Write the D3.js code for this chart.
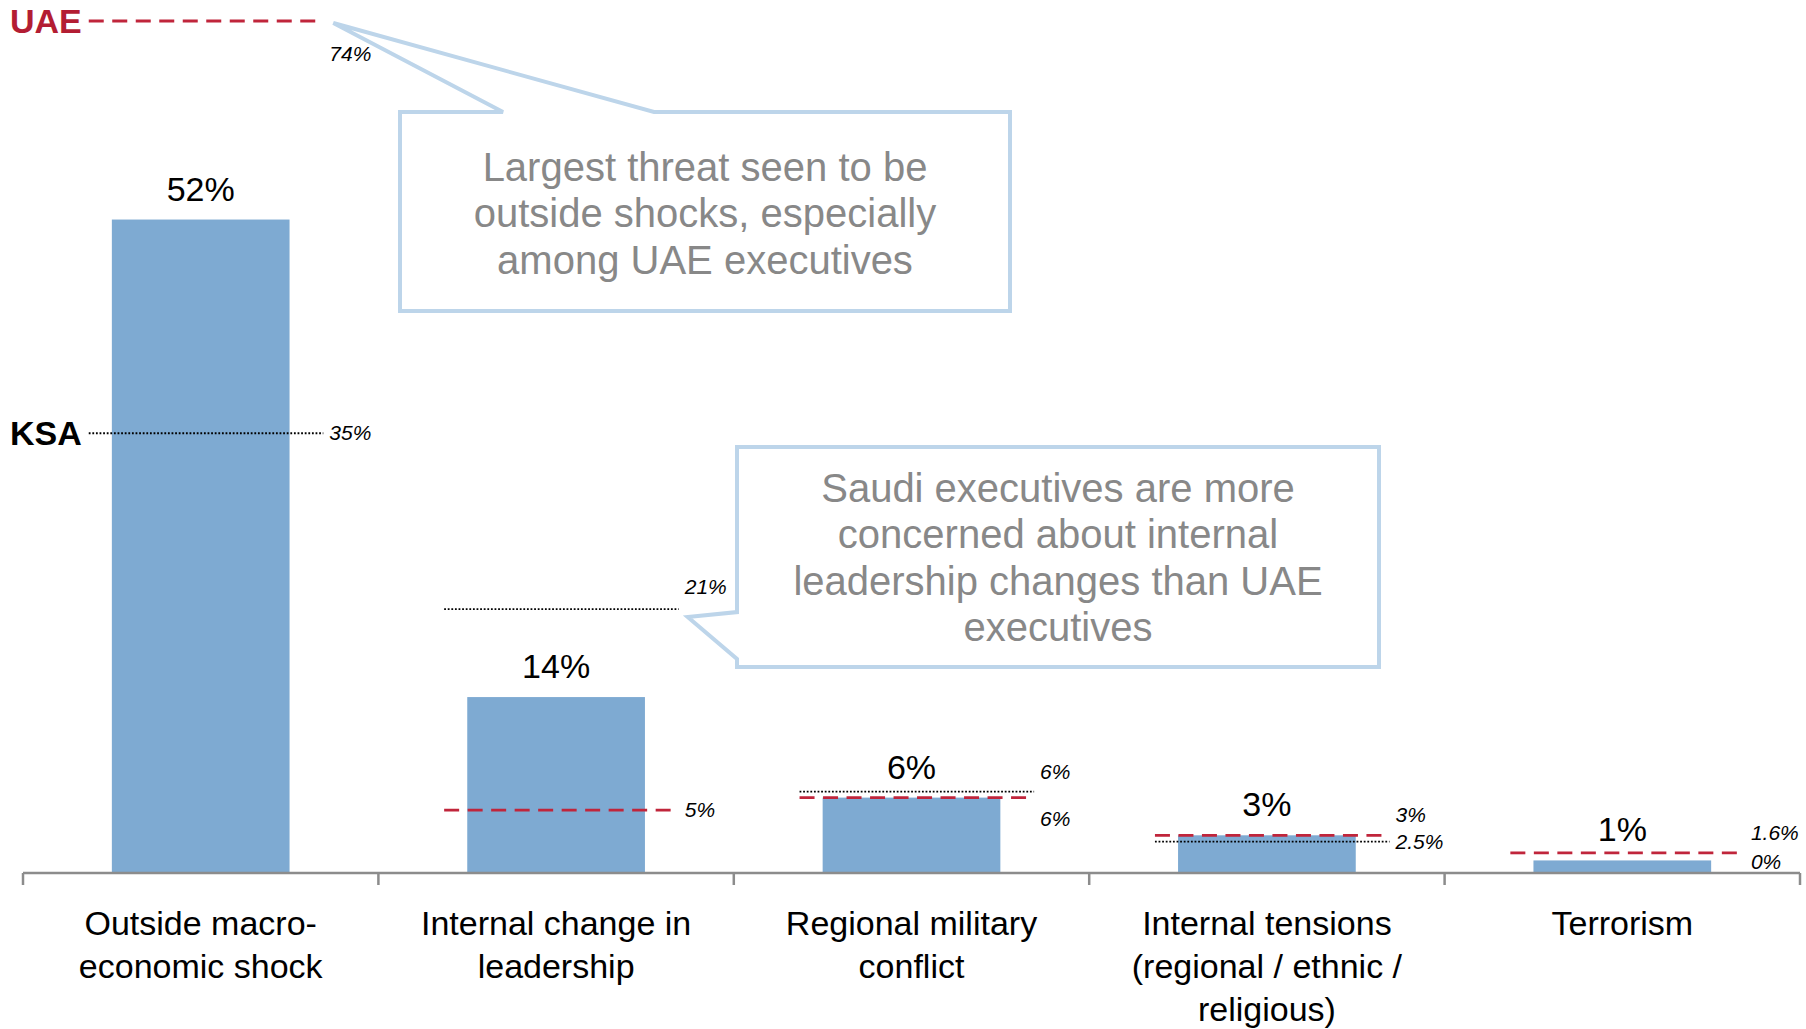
<!DOCTYPE html>
<html>
<head>
<meta charset="utf-8">
<script src="https://cdn.jsdelivr.net/npm/d3@7"></script>
<style>
  body { margin: 0; background: #fff; }
  svg { display: block; font-family: "Liberation Sans", Arial, Helvetica, sans-serif; }
</style>
</head>
<body>
<div id="chart"></div>
<script>
// categories and the wrapped labels shown under the axis
var categories = ["Outside macro-economic shock", "Internal change in leadership",
                  "Regional military conflict", "Internal tensions (regional / ethnic / religious)",
                  "Terrorism"];
var categoryLines = [
  ["Outside macro-", "economic shock"],
  ["Internal change in", "leadership"],
  ["Regional military", "conflict"],
  ["Internal tensions", "(regional / ethnic /", "religious)"],
  ["Terrorism"]
];

// share of executives (%) - total, UAE and KSA
var totalShare = [52, 14, 6, 3, 1];
var uaeShare   = [74, 5, 6, 3, 1.6];
var ksaShare   = [35, 21, 6, 2.5, 0];

var callouts = [
  { series: "UAE", cat: 0, side: "below",
    lines: ["Largest threat seen to be", "outside shocks, especially", "among UAE executives"] },
  { series: "KSA", cat: 1, side: "above",
    lines: ["Saudi executives are more", "concerned about internal",
            "leadership changes than UAE", "executives"] }
];

var width = 1806, height = 1029;
var y0 = 873, yTop = 21;

var svg = d3.select("#chart").append("svg")
    .attr("width", width)
    .attr("height", height);

var x = d3.scaleBand().domain(categories).range([23, 1800]);
var y = d3.scaleLinear().domain([0, 67.8]).range([y0, yTop]).clamp(true);
var bw = x.bandwidth();

var style = {
  UAE: { color: "#c0253b", dash: "15,8.5", width: 2.8, text: "#b31d33" },
  KSA: { color: "#000", dash: "1.8,1.8", width: 1.9, text: "#000" }
};
var seriesVals = { UAE: uaeShare, KSA: ksaShare };

function lineY(i, s) {
  var v = y(seriesVals[s][i]);
  // equal values: lift the dotted line just above the dashed one
  if (s === "KSA" && uaeShare[i] === ksaShare[i]) v -= 6;
  return v;
}
function lineX0(i) { return x(categories[i]) + bw * 0.185; }
function lineX1(i) { return x(categories[i]) + bw * 0.845; }

function labelY(i, s) {
  var yl = lineY(i, s);
  var c = callouts.find(function(d) { return d.cat === i && d.series === s; });
  if (c) return c.side === "below" ? yl + 40 : yl - 15;
  var a = lineY(i, "UAE"), b = lineY(i, "KSA");
  var other = s === "UAE" ? b : a;
  if (Math.abs(a - b) < 22) {
    if (yl < other) return yl - 13;
    if (uaeShare[i] === ksaShare[i]) return yl + 28;
  }
  return Math.min(yl + 7, y0 - 4);
}

// bars
svg.selectAll(".bar")
    .data(totalShare)
    .enter().append("rect")
    .attr("class", "bar")
    .attr("x", function(d, i) { return x(categories[i]) + bw * 0.25; })
    .attr("width", bw * 0.5)
    .attr("y", function(d) { return y(d); })
    .attr("height", function(d) { return y0 - y(d); })
    .style("fill", "#7eaad2");

// UAE / KSA reference lines
["KSA", "UAE"].forEach(function(s) {
  var st = style[s];
  svg.selectAll(".ref-" + s)
      .data(seriesVals[s])
      .enter().append("line")
      .attr("class", "ref-" + s)
      .attr("x1", function(d, i) { return lineX0(i); })
      .attr("x2", function(d, i) { return lineX1(i); })
      .attr("y1", function(d, i) { return lineY(i, s); })
      .attr("y2", function(d, i) { return lineY(i, s); })
      .style("stroke", st.color)
      .style("stroke-width", st.width)
      .style("stroke-dasharray", st.dash);

  svg.selectAll(".reflab-" + s)
      .data(seriesVals[s])
      .enter().append("text")
      .attr("class", "reflab-" + s)
      .attr("x", function(d, i) { return lineX1(i) + 6; })
      .attr("y", function(d, i) { return labelY(i, s); })
      .style("font-size", "21px")
      .style("font-style", "italic")
      .text(function(d) { return d + "%"; });

  // series name left of the first category
  svg.append("text")
      .attr("x", lineX0(0) - 7)
      .attr("y", lineY(0, s) + 12)
      .attr("text-anchor", "end")
      .style("font-size", "34px")
      .style("font-weight", "bold")
      .style("fill", st.text)
      .text(s);
});

// callouts
var boxes = [
  { left: 400, right: 1010, top: 112, bottom: 311, j1: 503, j2: 654, tx: 705, ty: 181, dx: 10, dy: 2 },
  { left: 737, right: 1379, top: 447, bottom: 667, tx: 1058, ty: 502, dx: 9, dy: 8 }
];
callouts.forEach(function(c, k) {
  var b = boxes[k];
  var tip = [lineX1(c.cat) + b.dx, lineY(c.cat, c.series) + b.dy];
  var p = d3.path();
  if (k === 0) {
    p.moveTo(b.left, b.top); p.lineTo(b.j1, b.top); p.lineTo(tip[0], tip[1]);
    p.lineTo(b.j2, b.top); p.lineTo(b.right, b.top); p.lineTo(b.right, b.bottom);
    p.lineTo(b.left, b.bottom); p.closePath();
  } else {
    // pointer on the left edge, opening just under the tip
    var j1 = tip[1] - 5, j2 = Math.min(tip[1] + 50, b.bottom - 8);
    p.moveTo(b.left, b.top); p.lineTo(b.right, b.top); p.lineTo(b.right, b.bottom);
    p.lineTo(b.left, b.bottom); p.lineTo(b.left, j2); p.lineTo(tip[0], tip[1]);
    p.lineTo(b.left, j1); p.closePath();
  }
  svg.append("path")
      .attr("d", p.toString())
      .style("fill", "#fff")
      .style("stroke", "#bdd5ea")
      .style("stroke-width", 4);

  var t = svg.append("text")
      .attr("text-anchor", "middle")
      .style("font-size", "40px")
      .style("fill", "#888");
  c.lines.forEach(function(l, j) {
    t.append("tspan").attr("x", b.tx).attr("y", b.ty + j * 46.3).text(l);
  });
});

// value labels above bars, kept clear of reference lines sitting on the bar
svg.selectAll(".val")
    .data(totalShare)
    .enter().append("text")
    .attr("class", "val")
    .attr("text-anchor", "middle")
    .attr("x", function(d, i) { return x(categories[i]) + bw / 2; })
    .attr("y", function(d, i) {
      var top = y(d), ly = top - 19;
      ["UAE", "KSA"].forEach(function(s) {
        var v = lineY(i, s);
        if (v <= top && top - v < 30) ly = Math.min(ly, v - 12);
      });
      return ly;
    })
    .style("font-size", "34px")
    .text(function(d) { return d + "%"; });

// axis with ticks on band edges
var edges = categories.map(function(c) { return x(c); }).concat([x.range()[1]]);
svg.append("line")
    .attr("x1", x.range()[0]).attr("x2", x.range()[1])
    .attr("y1", y0).attr("y2", y0)
    .style("stroke", "#8c8c8c").style("stroke-width", 2.5);
svg.selectAll(".edge")
    .data(edges)
    .enter().append("line")
    .attr("class", "edge")
    .attr("x1", function(d) { return d; }).attr("x2", function(d) { return d; })
    .attr("y1", y0).attr("y2", y0 + 12)
    .style("stroke", "#8c8c8c").style("stroke-width", 2.5);

var gx = svg.append("g")
    .attr("transform", "translate(0," + y0 + ")")
    .call(d3.axisBottom(x).tickSize(0));
gx.select(".domain").remove();
gx.selectAll(".tick text").each(function(d, i) {
  var t = d3.select(this).text("").attr("y", null).attr("dy", null)
      .style("font-size", "34px")
      .style("font-family", "\"Liberation Sans\", Arial, Helvetica, sans-serif")
      .attr("fill", "#000");
  categoryLines[i].forEach(function(l, j) {
    t.append("tspan").attr("x", 0).attr("y", 62 + j * 43).text(l);
  });
});
</script>
</body>
</html>
